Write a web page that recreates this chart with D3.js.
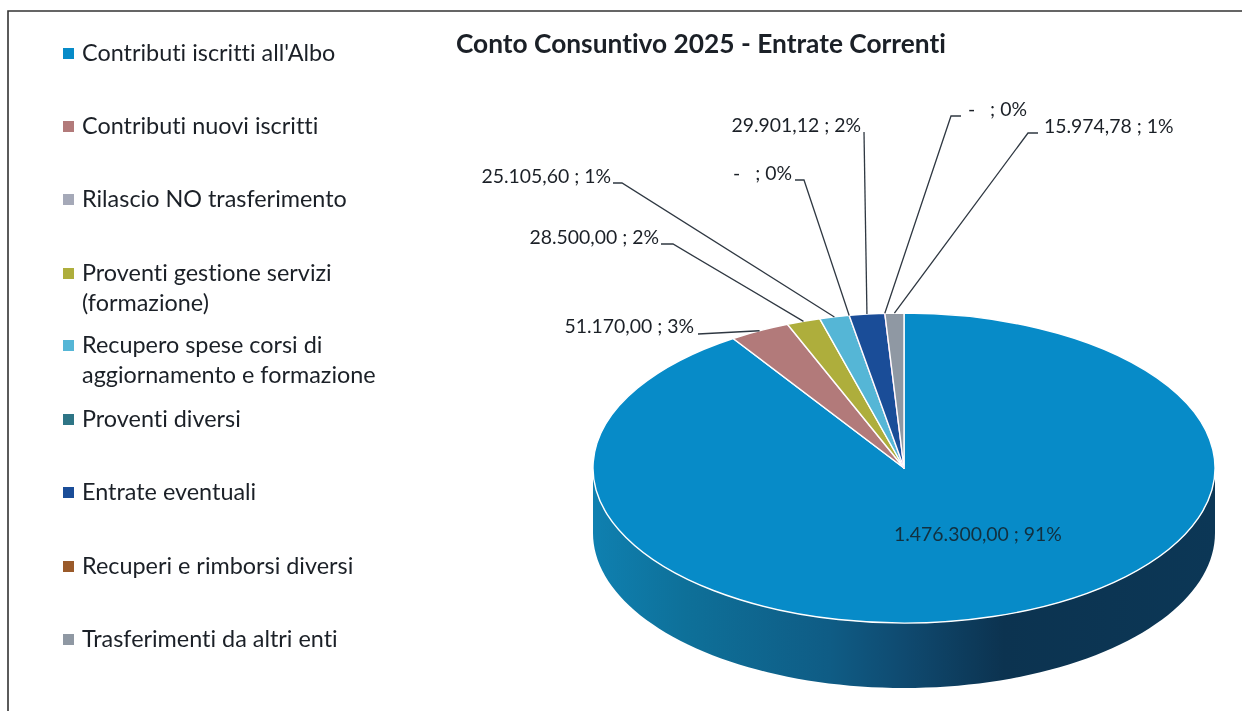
<!DOCTYPE html>
<html><head><meta charset="utf-8">
<script src="https://cdn.jsdelivr.net/npm/d3@7/dist/d3.min.js"></script>
<style>html,body{margin:0;padding:0;background:#fff;overflow:hidden}svg{display:block;filter:blur(0.4px)}text{font-family:Lato,"Open Sans",sans-serif;fill:#1b2027;font-variant-ligatures:none}</style>
</head><body><svg id="c" width="1242" height="711"></svg>
<script>
const categories=["Contributi iscritti all'Albo","Contributi nuovi iscritti","Rilascio NO trasferimento","Proventi gestione servizi\n(formazione)","Recupero spese corsi di\naggiornamento e formazione","Proventi diversi","Entrate eventuali","Recuperi e rimborsi diversi","Trasferimenti da altri enti"];
const values=[1476300,51170,0,28500,25105.6,0,29901.12,0,15974.78];
const valueLabels=["1.476.300,00 ; 91%","51.170,00 ; 3%","","28.500,00 ; 2%","25.105,60 ; 1%","-   ; 0%","29.901,12 ; 2%","-   ; 0%","15.974,78 ; 1%"];
const colors=["#078bc8","#b27a7a","#a5a9b8","#aeae3c","#55b6d6","#2e7586","#1a4d98","#9a5a2a","#8f98a3"];
const legendCentres=[53,126,199,273,345,419,492,566,639];
const labelSlots=[null,[694,327,"end",null],null,[659,238,"end",[673,661]],[611,177,"end",[622,613]],[792,174,"end",[804,795]],[861,126,"end",[864,864]],[968,110,"start",[951,961]],[1044,127,"start",[1028,1038]]];

const svg=d3.select("#c");
const cx=904,cy=468,rx=311,ry=155,depth=65;
const sy=ry/rx;
svg.append("path").attr("d","M8,711V11H1242").attr("fill","none").attr("stroke","#333").attr("stroke-width",1.6);
svg.append("text").attr("x",456).attr("y",53).attr("font-size",26.3).attr("font-weight",700).text("Conto Consuntivo 2025 - Entrate Correnti");

const defs=svg.append("defs");
const g=defs.append("linearGradient").attr("id","side").attr("gradientUnits","userSpaceOnUse").attr("x1",cx-rx).attr("x2",cx+rx).attr("y1",0).attr("y2",0);
[[0,"#0f80b0"],[.15,"#0e7099"],[.38,"#0f5c85"],[.5,"#0f4a70"],[.66,"#0c3350"],[1,"#0c3756"]].forEach(s=>g.append("stop").attr("offset",s[0]).attr("stop-color",s[1]));

const px=a=>cx+rx*Math.sin(a), py=a=>cy-ry*Math.cos(a);
const pie=d3.pie().sort(null).value(d=>d).startAngle(0).endAngle(2*Math.PI);
const arcs=pie(values);
const arcGen=d3.arc().innerRadius(0).outerRadius(rx);

// side wall: lower half of the ellipse extruded downward
const lower=d3.range(0,181,2).map(t=>{const a=Math.PI/2+t*Math.PI/180;return [px(a),py(a)+depth];});
const upper=d3.range(180,-1,-2).map(t=>{const a=Math.PI/2+t*Math.PI/180;return [px(a),py(a)];});
svg.append("path").attr("d",d3.line()(lower.concat(upper))+"Z").attr("fill","url(#side)");

const face=svg.append("g").attr("transform",`translate(${cx},${cy}) scale(1,${sy})`);
face.selectAll("path").data(arcs).join("path").attr("d",arcGen).attr("fill",(d,i)=>colors[i])
  .attr("stroke",(d,i)=>d.value>0?"#fff":"#e070c0").attr("stroke-width",(d,i)=>d.value>0?1.4:0.8).attr("vector-effect","non-scaling-stroke").attr("stroke-linejoin","round");

arcs.forEach((d,i)=>{
  const s=labelSlots[i]; if(!s) return;
  const mid=(d.startAngle+d.endAngle)/2;
  const ex=px(mid), ey=py(mid);
  const anchorY=s[1]+6;
  if(s[3]) svg.append("path").attr("d",`M${s[3][1]},${anchorY}H${s[3][0]}L${ex},${ey}`).attr("fill","none").attr("stroke","#2f3842").attr("stroke-width",1.3);
  else svg.append("path").attr("d",`M${s[0]+4},${anchorY+1}L${ex},${ey}`).attr("fill","none").attr("stroke","#2f3842").attr("stroke-width",1.3);
  svg.append("text").attr("x",s[0]).attr("y",s[1]+6).attr("text-anchor",s[2]).attr("font-size",19.4).style("white-space","pre").text(valueLabels[i]);
});
svg.append("text").attr("x",894).attr("y",541).attr("font-size",19.4).style("fill","#12303f").text(valueLabels[0]);

categories.forEach((c,i)=>{
  const yc=legendCentres[i];
  svg.append("rect").attr("x",63).attr("y",yc-5).attr("width",11).attr("height",11).attr("fill",colors[i]);
  c.split("\n").forEach((t,j)=>svg.append("text").attr("x",82).attr("y",yc+8+j*30).attr("font-size",23.4).text(t));
});
</script></body></html>
